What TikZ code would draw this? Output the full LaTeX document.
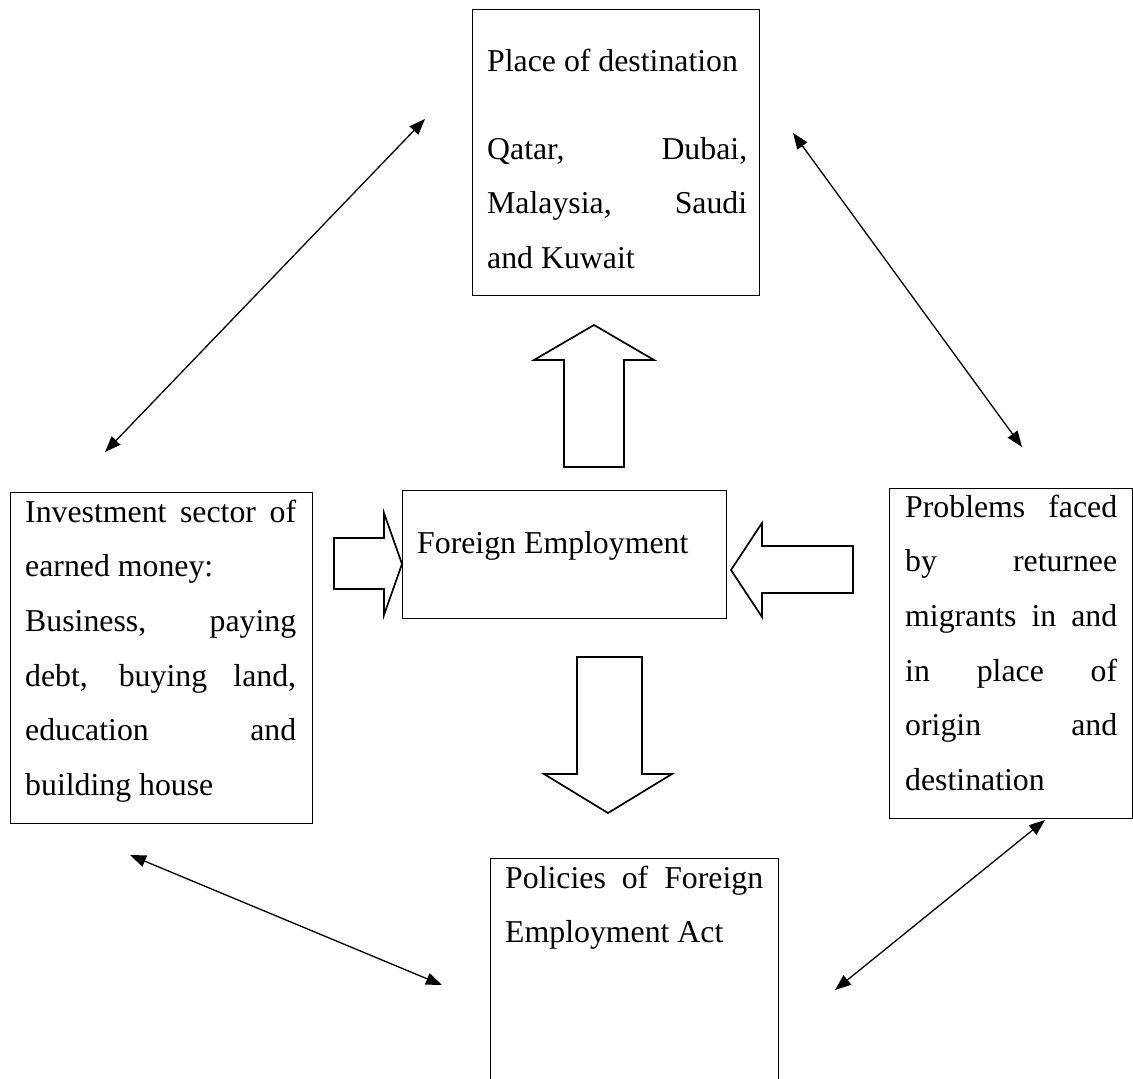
\documentclass[tikz,border=0pt]{standalone}
\usepackage{fontspec}
\setmainfont{Liberation Serif}
\usetikzlibrary{arrows.meta}
\setlength{\parindent}{0pt}
\tolerance=9999
\hyphenpenalty=10000
\begin{document}
\begin{tikzpicture}[x=1pt,y=-1pt,
  box/.style={draw, line width=1.3pt, inner sep=0pt, anchor=north west},
  txt/.style={anchor=north west, inner sep=0pt, align=justify, font=\fontsize{31.8}{54.6}\selectfont},
  blockarrow/.style={draw, line width=1.7pt, line join=miter, fill=white},
  dbl/.style={{Triangle[length=16pt,width=12pt]}-{Triangle[length=16pt,width=12pt]}, line width=1.3pt}]
\useasboundingbox (0,0) rectangle (1133,1079);
\clip (0,0) rectangle (1133,1079);

% boxes
\node[box, minimum width=287pt, minimum height=286pt] (top) at (472,9) {};
\node[box, minimum width=302pt, minimum height=331pt] (left) at (10,492) {};
\node[box, minimum width=324pt, minimum height=128pt] (center) at (402,490) {};
\node[box, minimum width=243pt, minimum height=330pt] (right) at (889,488) {};
\node[box, minimum width=288pt, minimum height=260pt] (bottom) at (490,858) {};

% texts
\node[txt, text width=260pt] (pod) at (487,32.8) {\strut Place of destination};
\node[txt, text width=260pt] (countries) at (487,120.8) {\strut Qatar, Dubai,\linebreak Malaysia, Saudi\linebreak and Kuwait};
\node[txt, text width=271pt] (invest) at (25,483.8) {\strut Investment sector of\linebreak earned money:\par Business, paying\linebreak debt, buying land,\linebreak education and\linebreak building house};
\node[txt, text width=212pt] (problems) at (905,478.8) {\strut Problems faced\linebreak by returnee\linebreak migrants in and\linebreak in place of\linebreak origin and\linebreak destination};
\node[txt, text width=258pt] (policies) at (505,849.8) {\strut Policies of Foreign\linebreak Employment Act};
\node[anchor=base west, inner sep=0pt, font=\fontsize{31.8}{54.6}\selectfont] (fe) at (417,553) {Foreign Employment};

% block arrows
\draw[blockarrow] (564,467) -- (564,360) -- (534,360) -- (594,325) -- (654,360) -- (624,360) -- (624,467) -- cycle;
\draw[blockarrow] (334,538) -- (384,538) -- (384,513) -- (402,564) -- (384,615) -- (384,589) -- (334,589) -- cycle;
\draw[blockarrow] (853,546) -- (762,546) -- (762,523) -- (731,570) -- (762,617) -- (762,593) -- (853,593) -- cycle;
\draw[blockarrow] (577,657) -- (642,657) -- (642,774) -- (672,774) -- (608,813) -- (544,774) -- (577,774) -- cycle;

% double arrows
\coordinate (tlA) at (105,452); \coordinate (tlB) at (425,119);
\coordinate (trA) at (793,133); \coordinate (trB) at (1022,447);
\coordinate (blA) at (130,855); \coordinate (blB) at (442,985);
\coordinate (brA) at (1045,820); \coordinate (brB) at (835,990);
\draw[dbl] (tlA) -- (tlB);
\draw[dbl] (trA) -- (trB);
\draw[dbl] (blA) -- (blB);
\draw[dbl] (brA) -- (brB);
\end{tikzpicture}
\end{document}
